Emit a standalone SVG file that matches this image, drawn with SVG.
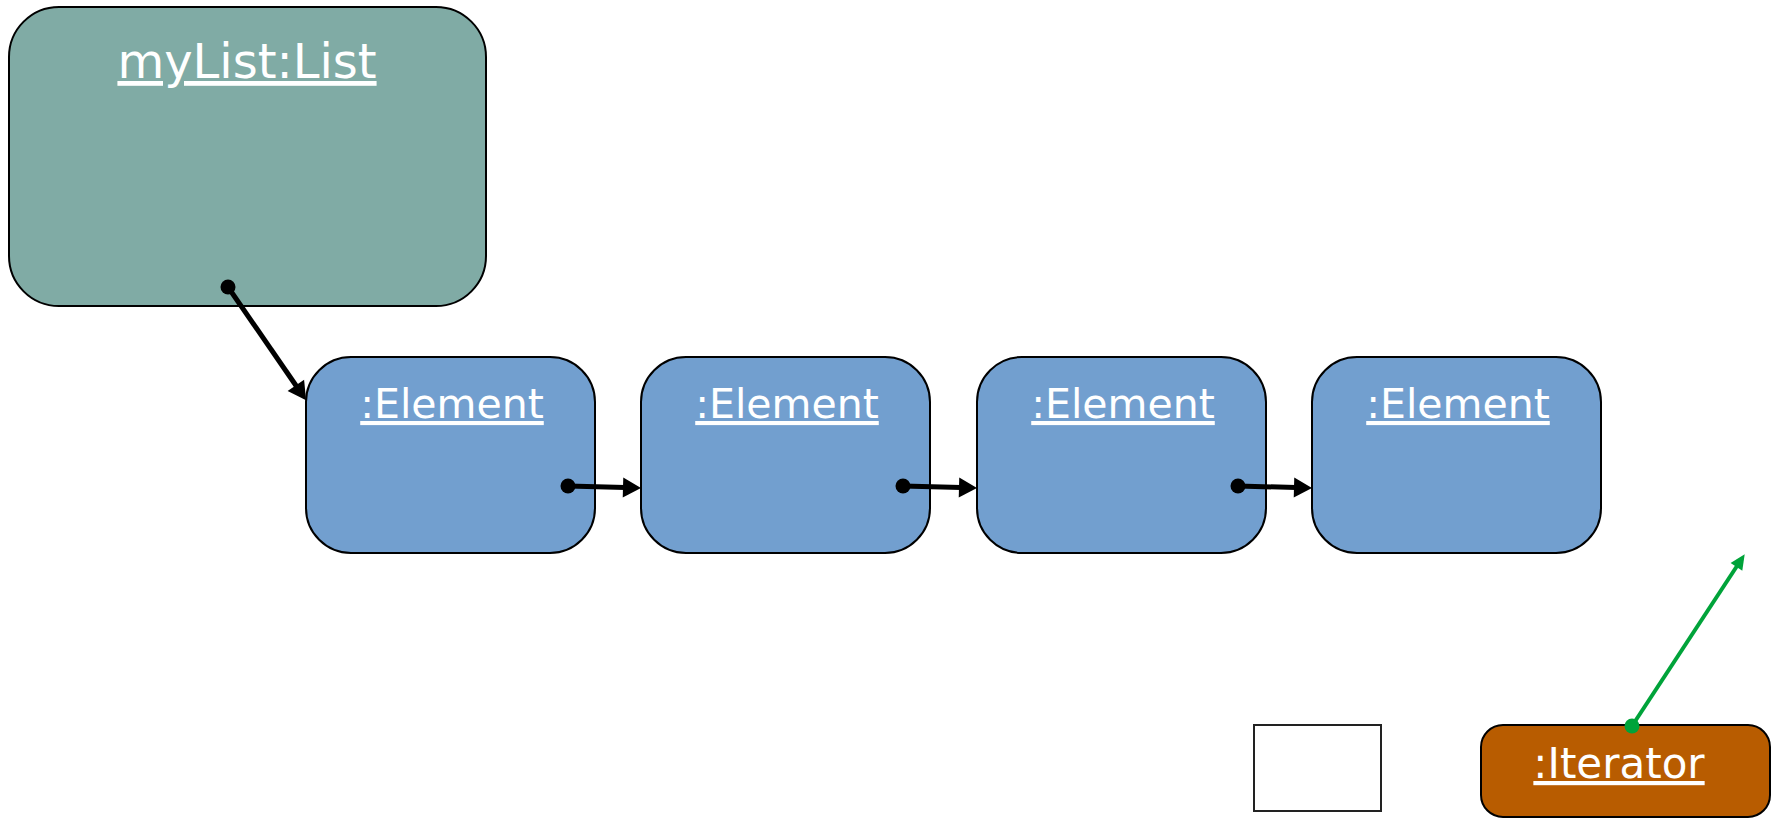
<svg xmlns="http://www.w3.org/2000/svg" width="1777" height="818" viewBox="0 0 1777 818">
<style>
.lbl{font-family:"DejaVu Sans",sans-serif;fill:#fff;text-anchor:middle;text-decoration:underline;}
.box{stroke:#000;stroke-width:2;}
.conn{stroke:#000;stroke-width:5;fill:none;}
</style>
<defs>
<marker id="ah" markerUnits="userSpaceOnUse" markerWidth="22" markerHeight="22" viewBox="0 0 22 22" refX="3" refY="11" orient="auto">
<path d="M1,1 L19,11 L1,21 Z" fill="#000"/>
</marker>
<marker id="ahg" markerUnits="userSpaceOnUse" markerWidth="18" markerHeight="18" viewBox="0 0 18 18" refX="2" refY="9" orient="auto">
<path d="M1,2 L16,9 L1,16 Z" fill="#00A33A"/>
</marker>
</defs>
<rect x="0" y="0" width="1777" height="818" fill="#fff"/>
<g id="myList">
<rect class="box" x="9" y="7" width="477" height="299" rx="50" ry="50" fill="#80ABA5"/>
<text class="lbl" x="247" y="78" font-size="48">myList:List</text>
</g>
<g id="element1">
<rect class="box" x="306" y="357" width="289" height="196" rx="45" ry="45" fill="#729FCF"/>
<text class="lbl" x="452" y="418" font-size="41">:Element</text>
</g>
<g id="element2">
<rect class="box" x="641" y="357" width="289" height="196" rx="45" ry="45" fill="#729FCF"/>
<text class="lbl" x="787" y="418" font-size="41">:Element</text>
</g>
<g id="element3">
<rect class="box" x="977" y="357" width="289" height="196" rx="45" ry="45" fill="#729FCF"/>
<text class="lbl" x="1123" y="418" font-size="41">:Element</text>
</g>
<g id="element4">
<rect class="box" x="1312" y="357" width="289" height="196" rx="45" ry="45" fill="#729FCF"/>
<text class="lbl" x="1458" y="418" font-size="41">:Element</text>
</g>
<g id="blank">
<rect x="1254" y="725" width="127" height="86" fill="#fff" stroke="#222" stroke-width="2"/>
</g>
<g id="iterator">
<rect class="box" x="1481" y="725" width="289" height="92" rx="22" ry="22" fill="#B85C00"/>
<text class="lbl" x="1619" y="778" font-size="42">:Iterator</text>
</g>
<g id="connectors">
<line class="conn" x1="228" y1="287" x2="297" y2="387" marker-end="url(#ah)"/>
<circle cx="228" cy="287" r="7.5" fill="#000"/>
<line class="conn" x1="568" y1="486" x2="625" y2="487.5" marker-end="url(#ah)"/>
<circle cx="568" cy="486" r="7.5" fill="#000"/>
<line class="conn" x1="903" y1="486" x2="961" y2="487.5" marker-end="url(#ah)"/>
<circle cx="903" cy="486" r="7.5" fill="#000"/>
<line class="conn" x1="1238" y1="486" x2="1296" y2="487.5" marker-end="url(#ah)"/>
<circle cx="1238" cy="486" r="7.5" fill="#000"/>
<line x1="1632" y1="726" x2="1737" y2="566" stroke="#00A33A" stroke-width="4" marker-end="url(#ahg)"/>
<circle cx="1632" cy="726" r="7.5" fill="#00A33A"/>
</g>
</svg>
